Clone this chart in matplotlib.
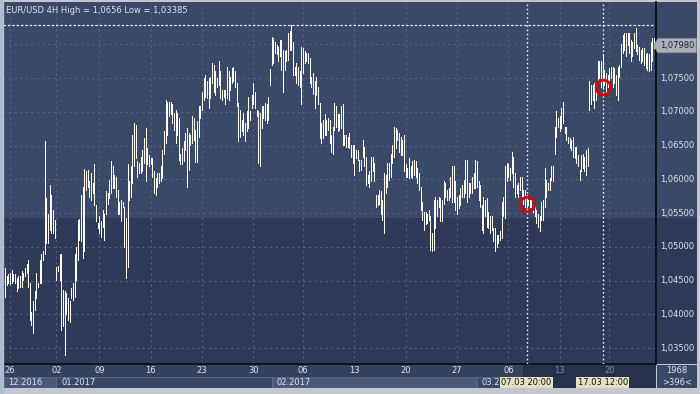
import numpy as np
import matplotlib
matplotlib.use("Agg")
import matplotlib.pyplot as plt
from matplotlib.patches import Rectangle, Polygon

# EUR/USD 4H bars, prices in pips (1e-4)
high_pips = [
    10468, 10456, 10460, 10461, 10466, 10459, 10459, 10454, 10456, 10457,
    10464, 10461, 10468, 10475, 10480, 10446, 10404, 10419, 10434, 10461,
    10446, 10480, 10490, 10493, 10656, 10572, 10548, 10592, 10577, 10554,
    10540, 10470, 10471, 10490, 10490, 10436, 10434, 10431, 10424, 10419,
    10439, 10446, 10490, 10500, 10540, 10541, 10577, 10589, 10615, 10612,
    10614, 10597, 10609, 10594, 10622, 10562, 10535, 10545, 10538, 10554,
    10548, 10582, 10579, 10599, 10627, 10619, 10607, 10604, 10584, 10567,
    10569, 10567, 10559, 10543, 10623, 10597, 10619, 10666, 10683, 10681,
    10627, 10624, 10633, 10643, 10661, 10676, 10646, 10636, 10631, 10631,
    10612, 10602, 10609, 10609, 10619, 10643, 10672, 10717, 10715, 10715,
    10715, 10711, 10698, 10703, 10698, 10691, 10638, 10646, 10656, 10668,
    10676, 10668, 10666, 10693, 10691, 10673, 10686, 10709, 10708, 10730,
    10750, 10755, 10745, 10750, 10752, 10772, 10770, 10760, 10750, 10775,
    10760, 10732, 10732, 10732, 10767, 10760, 10752, 10765, 10767, 10760,
    10742, 10713, 10703, 10688, 10698, 10683, 10701, 10722, 10701, 10725,
    10742, 10730, 10703, 10701, 10698, 10708, 10708, 10713, 10711, 10722,
    10763, 10811, 10809, 10804, 10799, 10796, 10806, 10806, 10792, 10790,
    10792, 10816, 10819, 10829, 10804, 10767, 10772, 10767, 10760, 10796,
    10795, 10790, 10787, 10787, 10780, 10752, 10757, 10745, 10752, 10737,
    10713, 10683, 10688, 10696, 10688, 10691, 10688, 10666, 10678, 10713,
    10708, 10696, 10696, 10708, 10711, 10666, 10666, 10663, 10668, 10651,
    10651, 10651, 10643, 10643, 10629, 10629, 10658, 10648, 10633, 10607,
    10612, 10633, 10633, 10624, 10577, 10577, 10584, 10582, 10569, 10609,
    10607, 10624, 10624, 10638, 10651, 10678, 10676, 10673, 10668, 10663,
    10658, 10666, 10622, 10617, 10631, 10619, 10627, 10629, 10627, 10617,
    10609, 10589, 10567, 10552, 10552, 10549, 10554, 10545, 10520, 10569,
    10574, 10569, 10574, 10572, 10569, 10597, 10594, 10584, 10587, 10604,
    10619, 10619, 10597, 10574, 10577, 10587, 10592, 10599, 10629, 10629,
    10594, 10594, 10604, 10609, 10629, 10627, 10597, 10592, 10562, 10574,
    10569, 10572, 10552, 10545, 10545, 10528, 10528, 10518, 10518, 10523,
    10567, 10574, 10619, 10624, 10622, 10617, 10641, 10633, 10609, 10592,
    10594, 10604, 10604, 10584, 10584, 10577, 10569, 10569, 10569, 10562,
    10559, 10554, 10548, 10545, 10567, 10569, 10617, 10599, 10594, 10602,
    10619, 10619, 10678, 10701, 10691, 10693, 10706, 10715, 10678, 10678,
    10663, 10661, 10658, 10663, 10648, 10648, 10636, 10614, 10636, 10638,
    10633, 10643, 10646, 10745, 10740, 10740, 10742, 10740, 10775, 10775,
    10775, 10785, 10762, 10757, 10755, 10765, 10767, 10767, 10765, 10755,
    10767, 10770, 10801, 10814, 10816, 10816, 10816, 10816, 10806, 10804,
    10816, 10824, 10799, 10796, 10792, 10795, 10795, 10785, 10787, 10785,
    10804, 10809, 10809,
]
low_pips = [
    10425, 10444, 10446, 10445, 10446, 10449, 10446, 10434, 10439, 10441,
    10441, 10451, 10456, 10461, 10441, 10391, 10384, 10372, 10406, 10424,
    10441, 10446, 10446, 10480, 10490, 10505, 10505, 10525, 10520, 10520,
    10513, 10451, 10464, 10451, 10377, 10382, 10339, 10401, 10391, 10389,
    10424, 10421, 10426, 10451, 10480, 10510, 10508, 10483, 10493, 10584,
    10589, 10574, 10569, 10579, 10562, 10538, 10528, 10520, 10515, 10530,
    10510, 10548, 10564, 10572, 10579, 10587, 10587, 10574, 10549, 10549,
    10538, 10559, 10500, 10454, 10470, 10569, 10574, 10594, 10619, 10631,
    10604, 10609, 10609, 10612, 10624, 10597, 10622, 10619, 10622, 10604,
    10579, 10577, 10589, 10594, 10597, 10602, 10638, 10653, 10666, 10693,
    10696, 10683, 10673, 10653, 10666, 10629, 10622, 10622, 10627, 10643,
    10589, 10614, 10651, 10653, 10658, 10625, 10625, 10663, 10691, 10703,
    10717, 10722, 10720, 10706, 10720, 10742, 10730, 10725, 10737, 10740,
    10720, 10717, 10722, 10711, 10720, 10717, 10732, 10742, 10745, 10737,
    10708, 10656, 10663, 10671, 10666, 10656, 10671, 10676, 10688, 10706,
    10712, 10706, 10693, 10624, 10619, 10676, 10691, 10688, 10683, 10688,
    10740, 10770, 10772, 10787, 10785, 10775, 10782, 10762, 10730, 10762,
    10775, 10777, 10792, 10792, 10755, 10755, 10742, 10740, 10737, 10711,
    10757, 10772, 10775, 10772, 10742, 10737, 10727, 10706, 10725, 10712,
    10661, 10653, 10661, 10666, 10666, 10673, 10653, 10641, 10638, 10673,
    10678, 10671, 10673, 10676, 10651, 10651, 10648, 10648, 10646, 10633,
    10624, 10607, 10631, 10629, 10612, 10614, 10633, 10619, 10592, 10594,
    10589, 10597, 10612, 10597, 10559, 10562, 10564, 10549, 10540, 10520,
    10579, 10589, 10599, 10604, 10624, 10633, 10646, 10658, 10641, 10636,
    10636, 10612, 10604, 10604, 10602, 10604, 10602, 10607, 10604, 10594,
    10584, 10554, 10540, 10525, 10533, 10535, 10540, 10495, 10493, 10495,
    10528, 10545, 10559, 10538, 10538, 10564, 10574, 10569, 10569, 10574,
    10567, 10567, 10554, 10549, 10557, 10562, 10574, 10574, 10579, 10567,
    10574, 10579, 10579, 10587, 10587, 10589, 10569, 10559, 10525, 10520,
    10545, 10530, 10528, 10520, 10525, 10508, 10493, 10500, 10505, 10510,
    10513, 10545, 10543, 10597, 10604, 10599, 10609, 10589, 10574, 10579,
    10574, 10584, 10569, 10564, 10559, 10559, 10562, 10559, 10559, 10552,
    10545, 10535, 10530, 10523, 10540, 10540, 10559, 10574, 10584, 10584,
    10599, 10597, 10638, 10663, 10678, 10671, 10676, 10683, 10668, 10658,
    10653, 10646, 10643, 10633, 10631, 10624, 10619, 10599, 10612, 10617,
    10612, 10607, 10619, 10703, 10711, 10717, 10706, 10717, 10742, 10750,
    10737, 10737, 10740, 10730, 10737, 10742, 10750, 10737, 10742, 10725,
    10717, 10752, 10767, 10787, 10792, 10782, 10799, 10787, 10775, 10782,
    10795, 10790, 10785, 10777, 10772, 10775, 10770, 10765, 10762, 10760,
    10762, 10775, 10795,
]
last_price = 1.07980

week_idx = [3, 31, 57, 88, 119, 150, 180, 211, 242, 273, 304, 335, 365]
week_labels = ["26", "02", "09", "16", "23", "30", "06", "13", "20", "27", "06", "13", "20"]
month_idx = [-1, 31, 161, 285]
month_labels = ["12.2016", "01.2017", "02.2017", "03.2017"]
price_ticks = [1.035, 1.040, 1.045, 1.050, 1.055, 1.060, 1.065, 1.070, 1.075]

cursor_idx = [315, 361]
cursor_price = [1.0564, 1.0737]
cursor_labels = ["07.03 20:00", "17.03 12:00"]

high = np.array(high_pips) / 1e4
low = np.array(low_pips) / 1e4
x = np.arange(len(high))

TOP_BG = "#3b4969"
BOT_BG = "#2e3a57"
GRID = "#56637f"
TXT = "#dde4f0"
FS = 6.0

W, H = 700, 394
fig = plt.figure(figsize=(7, 3.94), dpi=100, facecolor="#c3c8d0")
fig.patches.append(Rectangle((0, 0), 3 / W, 1, transform=fig.transFigure,
                             color="#aebbd0", zorder=0))

def px_axes(x0, y0, x1, y1):
    # axes from a pixel box, origin top-left
    return fig.add_axes([x0 / W, 1 - y1 / H, (x1 - x0) / W, (y1 - y0) / H])

ax = px_axes(3, 2, 656, 364)
xlim = (-1.2, 393.2)
ylim = (1.03263, 1.08626)
split = 0.403

def two_tone(a):
    a.set_facecolor(TOP_BG)
    a.add_patch(Rectangle((0, 0), 1, split, transform=a.transAxes,
                          color=BOT_BG, zorder=0, lw=0))

two_tone(ax)
ax.set_xlim(*xlim)
ax.set_ylim(*ylim)
for p in price_ticks + [1.080]:
    ax.axhline(p, color=GRID, lw=0.8, ls=(0, (2, 3)), zorder=1)
for i in week_idx:
    ax.axvline(i, color=GRID, lw=0.8, ls=(0, (2, 3)), zorder=1)

ax.axhline(high.max(), color="#e6eaf2", lw=0.9, ls=(0, (2, 1.5)), zorder=2)
ax.vlines(x, low, high, colors="#fffaf0", linewidth=0.5, antialiased=False, zorder=3)

for ci in cursor_idx:
    ax.axvline(ci, color="#f2f2f2", lw=1.0, ls=(0, (1.2, 1.8)), zorder=4)
ax.plot(cursor_idx, cursor_price, "o", ms=10.5, mfc="none", mec="#e00000", mew=2.0, zorder=5)

ax.text(0.004, 0.988, "EUR/USD 4H High = 1,0656 Low = 1,03385", transform=ax.transAxes,
        ha="left", va="top", fontsize=FS, color=TXT)
ax.set_xticks([])
ax.set_yticks([])
for s in ["top", "left"]:
    ax.spines[s].set_visible(False)
for s in ["right", "bottom"]:
    ax.spines[s].set_color("#0b0f18")
    ax.spines[s].set_linewidth(1.4)

# right price scale
axr = px_axes(657, 2, 697, 364)
two_tone(axr)
axr.set_ylim(*ylim)
axr.set_xlim(0, 1)
axr.set_xticks([])
axr.set_yticks([])
for s in axr.spines.values():
    s.set_visible(False)
for p in price_ticks:
    axr.text(0.08, p, f"{p:.5f}".replace(".", ","), ha="left", va="center",
             fontsize=FS, color=TXT)
hh = 0.00105
tag = Polygon([(-0.08, last_price), (0.02, last_price + hh), (0.98, last_price + hh),
               (0.98, last_price - hh), (0.02, last_price - hh)],
              closed=True, facecolor="#aab0ba", edgecolor="#8a909a", lw=0.6,
              clip_on=False, zorder=5)
axr.add_patch(tag)
axr.text(0.08, last_price, f"{last_price:.5f}".replace(".", ","), ha="left", va="center",
         fontsize=FS, color="#1c2436", zorder=6)

# bottom time scale
axb = px_axes(3, 365, 656, 388)
axb.set_xlim(*xlim)
axb.set_ylim(0, 1)
axb.set_facecolor("#34425f")
axb.set_xticks([])
axb.set_yticks([])
for s in axb.spines.values():
    s.set_visible(False)
month_bg = ["#4a5879", "#394767", "#4a5879", "#394767"]
bounds = month_idx + [xlim[1]]
for k, lab in enumerate(month_labels):
    axb.add_patch(Rectangle((bounds[k], 0), bounds[k + 1] - bounds[k], 0.5,
                            facecolor=month_bg[k], edgecolor="#5d6a88", lw=0.6, zorder=1))
    axb.text(max(bounds[k], xlim[0]) + 3, 0.24, lab, ha="left", va="center",
             fontsize=FS, color=TXT, zorder=2)
axb.add_patch(Rectangle((cursor_idx[0] - 2, 0), xlim[1] - cursor_idx[0] + 2, 1,
                        facecolor="#26314c", lw=0, zorder=3))
for i, lab in zip(week_idx, week_labels):
    c = "#7d8aa6" if i > cursor_idx[0] else TXT
    axb.text(i, 0.74, lab, ha="center", va="center", fontsize=FS, color=c, zorder=4)
for ci, lab in zip(cursor_idx, cursor_labels):
    axb.text(ci, 0.24, lab, ha="center", va="center", fontsize=FS, color="#151515",
             zorder=5, bbox=dict(boxstyle="square,pad=0.15", fc="#e4e0c3", ec="none"))

# corner box
axc = px_axes(657, 365, 697, 388)
axc.set_facecolor("#3a4868")
axc.set_xticks([])
axc.set_yticks([])
for s in axc.spines.values():
    s.set_visible(False)
axc.text(0.5, 0.74, "1968", ha="center", va="center", fontsize=FS, color=TXT,
         transform=axc.transAxes)
axc.text(0.5, 0.24, ">396<", ha="center", va="center", fontsize=FS, color=TXT,
         transform=axc.transAxes)

fig.savefig("out.png", dpi=100, facecolor=fig.get_facecolor())
